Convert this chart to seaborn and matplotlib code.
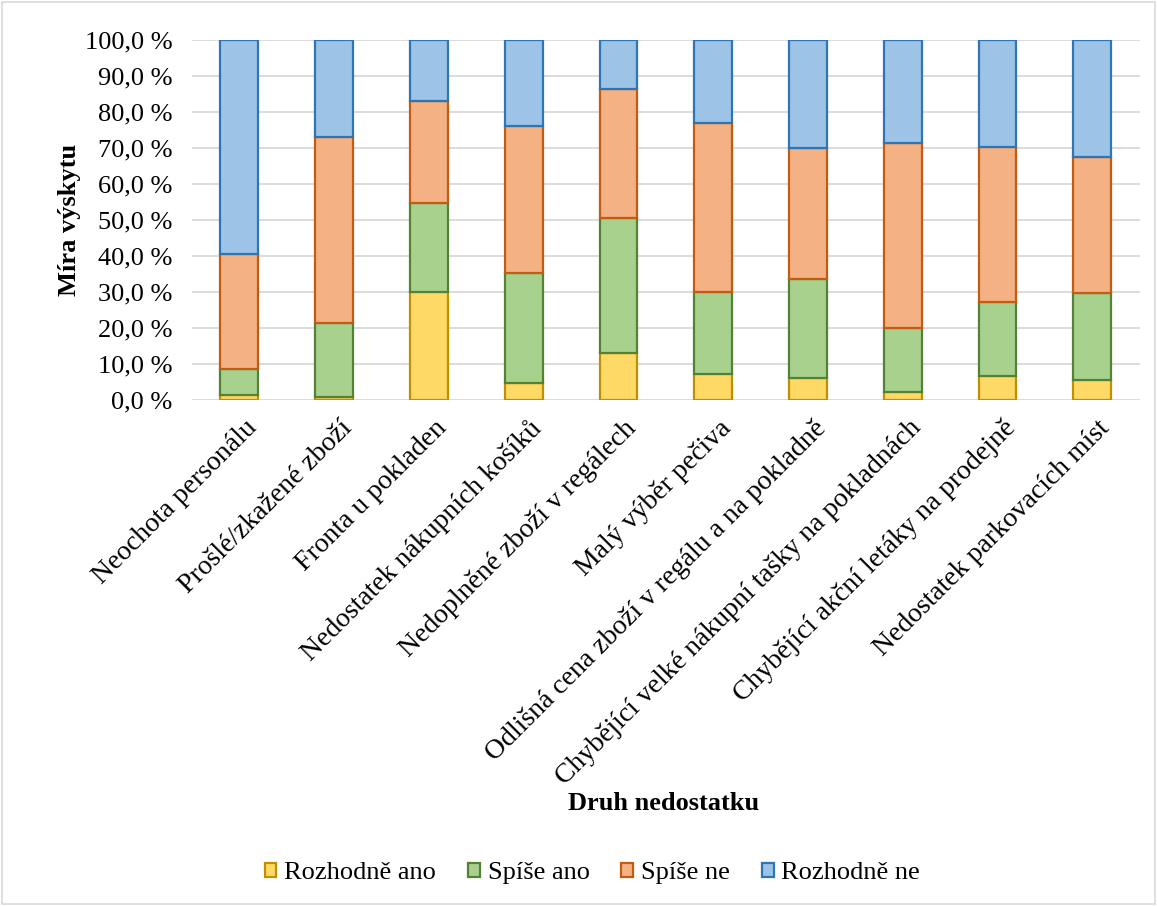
import matplotlib
matplotlib.use("Agg")
import matplotlib.pyplot as plt
import matplotlib.transforms as mtransforms
import seaborn as sns
import numpy as np
from matplotlib.patches import Rectangle
from matplotlib.ticker import FuncFormatter

categories = [
    "Neochota personálu",
    "Prošlé/zkažené zboží",
    "Fronta u pokladen",
    "Nedostatek nákupních košíků",
    "Nedoplněné zboží v regálech",
    "Malý výběr pečiva",
    "Odlišná cena zboží v regálu a na pokladně",
    "Chybějící velké nákupní tašky na pokladnách",
    "Chybějící akční letáky na prodejně",
    "Nedostatek parkovacích míst",
]
series_names = ["Rozhodně ano", "Spíše ano", "Spíše ne", "Rozhodně ne"]
rozhodne_ano = [1.4, 0.8, 30.1, 4.8, 13.0, 7.2, 6.2, 2.1, 6.7, 5.6]
spise_ano = [7.1, 20.7, 24.5, 30.6, 37.6, 22.8, 27.3, 17.8, 20.6, 24.0]
spise_ne = [32.0, 51.6, 28.5, 40.8, 35.9, 46.9, 36.4, 51.6, 43.1, 38.0]
rozhodne_ne = [59.5, 26.9, 16.9, 23.8, 13.5, 23.1, 30.1, 28.5, 29.6, 32.4]

fills = ["#FFD966", "#A9D18E", "#F4B183", "#9DC3E6"]
edges = ["#BF9000", "#548235", "#C55A11", "#2E75B6"]

sns.set_style("white")
plt.rcParams["font.family"] = ["Liberation Serif", "DejaVu Serif"]
plt.rcParams["text.color"] = "black"
plt.rcParams["axes.labelcolor"] = "black"
plt.rcParams["xtick.color"] = "black"
plt.rcParams["ytick.color"] = "black"

FS = 19

fig = plt.figure(figsize=(11.57, 9.06), dpi=100)
ax = fig.add_axes([0.166, 0.5585, 0.819, 0.3973])

layers = [rozhodne_ano, spise_ano, spise_ne, rozhodne_ne]
bottom = np.zeros(len(categories))
for name, vals, fc, ec in zip(series_names, layers, fills, edges):
    sns.barplot(x=categories, y=vals, bottom=bottom, color=fc, edgecolor=ec,
                linewidth=1.6, width=0.4, label=name, ax=ax, zorder=3,
                saturation=1, legend=False)
    bottom = bottom + np.array(vals)

ax.set_ylim(0, 100)
ax.set_xlim(-0.5, len(categories) - 0.5)
ax.set_yticks(np.arange(0, 101, 10))
ax.yaxis.set_major_formatter(FuncFormatter(lambda v, p: f"{v:.1f} %".replace(".", ",")))
ax.grid(axis="y", color="#D9D9D9", linewidth=1.3, zorder=0)
ax.set_axisbelow(True)
for s in ax.spines.values():
    s.set_visible(False)
ax.tick_params(axis="y", labelsize=FS, length=0, pad=14)
ax.tick_params(axis="x", labelsize=20, length=0, pad=11)
shift = mtransforms.ScaledTranslation(5 / 100, 0, fig.dpi_scale_trans)
for lbl in ax.get_xticklabels():
    lbl.set_rotation(45)
    lbl.set_ha("right")
    lbl.set_rotation_mode("anchor")
    lbl.set_transform(lbl.get_transform() + shift)

ax.set_ylabel("Míra výskytu", fontsize=FS, fontweight="bold", labelpad=3)
ax.set_xlabel("")
fig.text(0.5735, 1 - 803 / 906, "Druh nedostatku", fontsize=FS, fontweight="bold",
         ha="center", va="center")

handles = [Rectangle((0, 0), 1, 1, facecolor=fc, edgecolor=ec, linewidth=1.6)
           for fc, ec in zip(fills, edges)]
fig.legend(handles, series_names, loc="center", bbox_to_anchor=(0.512, 1 - 873 / 906),
           ncol=4, frameon=False, fontsize=FS, handlelength=0.45, handleheight=0.45,
           handletextpad=0.3, columnspacing=1.2)

fig.patches.append(Rectangle((0.002, 0.002), 0.996, 0.996, transform=fig.transFigure,
                             fill=False, edgecolor="#D9D9D9", linewidth=1.2))

fig.savefig("out.png", dpi=100)
